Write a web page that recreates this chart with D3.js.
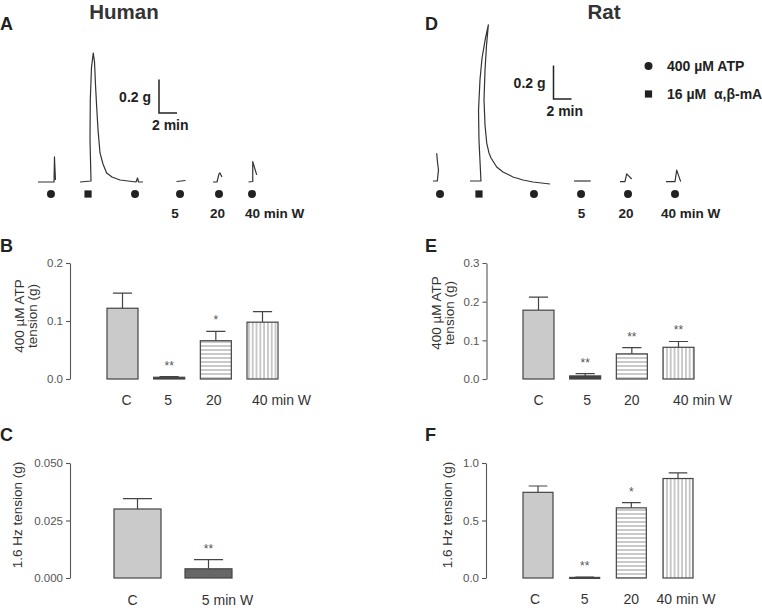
<!DOCTYPE html>
<html>
<head>
<meta charset="utf-8">
<script src="https://cdn.jsdelivr.net/npm/d3@7"></script>
<style>
  body { margin: 0; background: #fff; }
  svg { display: block; font-family: "Liberation Sans", Arial, sans-serif; }
</style>
</head>
<body>
<script>
// ---- traces (time in min, tension in g) ----
const humanTraces = [
  [[0, 0], [1.78, 0], [1.83, 0.149], [1.89, 0.071], [1.94, 0.012]],
  [[4.67, 0], [5.89, 0.006], [5.78, 0.25], [5.81, 0.488], [5.94, 0.679], [6.14, 0.768],
   [6.28, 0.714], [6.39, 0.577], [6.52, 0.446], [6.67, 0.31], [6.89, 0.173], [7.22, 0.107],
   [7.63, 0.054], [8.22, 0.03], [9.11, 0.012], [10.89, 0], [11.06, 0.024], [11.17, 0], [11.67, 0]],
  [[15.39, 0.003], [16.39, 0.009]],
  [[19.44, 0], [19.89, 0], [20.11, 0.048], [20.22, 0.054], [20.44, 0.03]],
  [[23.39, 0], [23.86, 0.003], [23.86, 0.121], [24.3, 0.042]]
];
const ratTraces = [
  [[0.11, 0.006], [0.59, 0.006], [0.72, 0.071], [0.61, 0.119], [0.52, 0.171]],
  [[4.22, 0.006], [5.44, 0.006], [5.22, 0.25], [5.17, 0.429], [5.33, 0.607], [5.56, 0.738],
   [5.94, 0.857], [6.26, 0.935], [6.06, 0.815], [5.89, 0.667], [5.78, 0.488], [5.89, 0.339],
   [6.08, 0.232], [6.33, 0.173], [6.56, 0.143], [7.19, 0.089], [7.89, 0.06], [9, 0.03],
   [10.11, 0.012], [11.22, 0], [13.11, -0.012]],
  [[15.78, 0.006], [17.63, 0.006]],
  [[20.89, 0.002], [21.44, 0.002], [21.63, 0.048], [22.19, 0.018]],
  [[26, 0.002], [27, 0.002], [27.19, 0.071], [27.63, 0.002]]
];
// drug application markers (time in min)
const humanMarkers = [[1.44, "atp"], [5.56, "mA"], [10.78, "atp"], [15.78, "atp"], [20.11, "atp"], [23.78, "atp"]];
const ratMarkers = [[0.89, "atp"], [5.22, "mA"], [11.33, "atp"], [16.56, "atp"], [21.78, "atp"], [27, "atp"]];
const humanTimeLabels = [[15.22, "5", "middle"], [19.94, "20", "middle"], [23, "40 min W", "start"]];
const ratTimeLabels = [[16.61, "5", "middle"], [21.56, "20", "middle"], [25.44, "40 min W", "start"]];
const legendItems = [["atp", "400 \u00b5M ATP"], ["mA", "16 \u00b5M  \u03b1,\u03b2-mA"]];

// ---- bar charts ----
const washCats = ["C", "5", "20", "40 min W"];
const humanAtpMean = [0.122, 0.003, 0.066, 0.098];
const humanAtpSem = [0.026, 0.001, 0.016, 0.018];
const humanAtpSig = ["", "**", "*", ""];
const ratAtpMean = [0.178, 0.008, 0.065, 0.082];
const ratAtpSem = [0.034, 0.006, 0.016, 0.015];
const ratAtpSig = ["", "**", "**", "**"];
const humanEfsCats = ["C", "5 min W"];
const humanEfsMean = [0.030, 0.004];
const humanEfsSem = [0.0045, 0.004];
const humanEfsSig = ["", "**"];
const ratEfsMean = [0.745, 0.005, 0.61, 0.865];
const ratEfsSem = [0.055, 0.002, 0.045, 0.05];
const ratEfsSig = ["", "**", "*", ""];

const W = 762, H = 610;
const svg = d3.select("body").append("svg").attr("width", W).attr("height", H);
const defs = svg.append("defs");

const hl = defs.append("pattern").attr("id", "hlines").attr("patternUnits", "userSpaceOnUse")
  .attr("width", 4).attr("height", 4);
hl.append("rect").attr("width", 4).attr("height", 4).attr("fill", "#fff");
hl.append("line").attr("x1", 0).attr("x2", 4).attr("y1", 2).attr("y2", 2)
  .attr("stroke", "#777").attr("stroke-width", 0.8);
const vl = defs.append("pattern").attr("id", "vlines").attr("patternUnits", "userSpaceOnUse")
  .attr("width", 3.8).attr("height", 4);
vl.append("rect").attr("width", 3.8).attr("height", 4).attr("fill", "#fff");
vl.append("line").attr("x1", 1.9).attr("x2", 1.9).attr("y1", 0).attr("y2", 4)
  .attr("stroke", "#777").attr("stroke-width", 0.8);

function panelLetter(txt, x, y) {
  svg.append("text").attr("x", x).attr("y", y).text(txt)
    .attr("font-size", 18).attr("font-weight", "bold").attr("fill", "#222");
}

function marker(g, type, x, y) {
  if (type === "atp") g.append("circle").attr("cx", x).attr("cy", y).attr("r", 4).attr("fill", "#222");
  else g.append("rect").attr("x", x - 3.6).attr("y", y - 3.6).attr("width", 7.2).attr("height", 7.2).attr("fill", "#222");
}

function tracePanel(traces, markers, timeLabels, o) {
  const g = svg.append("g");
  const x = d3.scaleLinear().domain([0, 10]).range([o.x0, o.x0 + 90]);
  const y = d3.scaleLinear().domain([0, 0.2]).range([o.base, o.base - 33.6]);
  const line = d3.line().x(d => x(d[0])).y(d => y(d[1]));
  g.selectAll("path.trace").data(traces).join("path").attr("class", "trace")
    .attr("d", line).attr("fill", "none").attr("stroke", "#333")
    .attr("stroke-width", 1.2).attr("stroke-linejoin", "round");
  markers.forEach(m => marker(g, m[1], x(m[0]), o.markerY));
  g.selectAll("text.tl").data(timeLabels).join("text").attr("class", "tl")
    .attr("x", d => x(d[0])).attr("y", o.labelY).attr("text-anchor", d => d[2])
    .attr("font-size", 13.5).attr("font-weight", "bold").attr("fill", "#222").text(d => d[1]);
  // scale bar
  const sx = o.barX, sy = o.barY;
  const dy = y(0) - y(0.2), dx = x(2) - x(0);
  g.append("path").attr("d", `M${sx},${sy - dy}V${sy}H${sx + dx}`)
    .attr("fill", "none").attr("stroke", "#222").attr("stroke-width", 1.5);
  g.append("text").attr("x", sx - 8).attr("y", sy - dy / 2 + 6).attr("text-anchor", "end")
    .attr("font-size", 14).attr("font-weight", "bold").attr("fill", "#222").text("0.2 g");
  g.append("text").attr("x", sx - 7).attr("y", sy + 17)
    .attr("font-size", 14).attr("font-weight", "bold").attr("fill", "#222").text("2 min");
  g.append("text").attr("x", o.titleX).attr("y", 18.5).attr("text-anchor", "middle")
    .attr("font-size", 20.5).attr("font-weight", "bold").attr("fill", "#333").text(o.title);
}

tracePanel(humanTraces, humanMarkers, humanTimeLabels,
  { x0: 38, base: 182, markerY: 194, labelY: 218, barX: 159, barY: 113, titleX: 124, title: "Human" });
tracePanel(ratTraces, ratMarkers, ratTimeLabels,
  { x0: 432, base: 182, markerY: 194, labelY: 218, barX: 553.5, barY: 99, titleX: 604, title: "Rat" });

// legend
const lg = svg.append("g");
legendItems.forEach((d, i) => {
  marker(lg, d[0], 648.5, 66 + i * 28);
  lg.append("text").attr("x", 667).attr("y", 71 + i * 28).attr("font-size", 14)
    .attr("font-weight", "bold").attr("fill", "#222").style("white-space", "pre").text(d[1]);
});

panelLetter("A", 0, 30);
panelLetter("D", 425, 30);
panelLetter("B", 0, 252);
panelLetter("E", 425, 252);
panelLetter("C", 0, 441);
panelLetter("F", 425, 441);

const fills = { gray: "#cacaca", dark: "#444", mid: "#666", h: "url(#hlines)", v: "url(#vlines)" };

function barPanel(cats, mean, sem, sig, o) {
  const g = svg.append("g");
  const y = d3.scaleLinear().domain([0, o.max]).range([o.yBottom, o.yTop]);
  const x = d3.scalePoint().domain(cats).range(o.xRange);
  const axis = d3.axisLeft(y).tickValues(o.ticks).tickFormat(d3.format(o.fmt))
    .tickSize(4).tickSizeOuter(0).tickPadding(3);
  const ag = g.append("g").attr("transform", `translate(${o.axisX},0)`).call(axis);
  ag.selectAll("path,line").attr("stroke", "#555").attr("stroke-width", 1.1);
  ag.selectAll("text").attr("font-size", 11.5).attr("fill", "#555")
    .attr("font-family", "'Liberation Sans', Arial, sans-serif");

  const bw = o.bw;
  const data = cats.map((c, i) => ({ c, v: mean[i], e: sem[i], s: sig[i], f: o.fills[i], dx: o.labelDx[i] }));
  // error bars (upper only)
  data.forEach(d => {
    const cx = x(d.c);
    g.append("path").attr("d", `M${cx},${y(d.v)}V${y(d.v + d.e)}M${cx - bw * 0.31},${y(d.v + d.e)}H${cx + bw * 0.31}`)
      .attr("stroke", "#444").attr("stroke-width", 1.2).attr("fill", "none");
  });
  g.selectAll("rect.bar").data(data).join("rect").attr("class", "bar")
    .attr("x", d => x(d.c) - bw / 2).attr("y", d => y(d.v))
    .attr("width", bw).attr("height", d => Math.max(1, y(0) - y(d.v)))
    .attr("fill", d => fills[d.f]).attr("stroke", "#444").attr("stroke-width", 1.2);
  g.selectAll("text.sig").data(data).join("text").attr("class", "sig")
    .attr("x", d => x(d.c)).attr("y", d => y(d.v + d.e) - 7).attr("text-anchor", "middle")
    .attr("font-size", 12).attr("fill", "#555").text(d => d.s);
  g.selectAll("text.cat").data(data).join("text").attr("class", "cat")
    .attr("x", d => x(d.c) + d.dx).attr("y", o.labelY).attr("text-anchor", "middle")
    .attr("font-size", 14).attr("fill", "#333").text(d => d.c);
  const yl = g.append("text").attr("transform", `translate(${o.ylabX},${o.ylabY}) rotate(-90)`)
    .attr("text-anchor", "middle").attr("font-size", 13.5).attr("fill", "#333");
  o.ylabel.forEach((t, i) => yl.append("tspan").attr("x", 0).attr("dy", i ? 13 : 0).text(t));
}

barPanel(washCats, humanAtpMean, humanAtpSem, humanAtpSig, {
  max: 0.2, ticks: [0, 0.1, 0.2], fmt: ".1f", yBottom: 379, yTop: 263, axisX: 70,
  xRange: [122.5, 262.5], bw: 31, fills: ["gray", "dark", "h", "v"], labelDx: [4, -1, -2, 19],
  labelY: 405, ylabX: 24, ylabY: 316, ylabel: ["400 \u00b5M ATP", "tension (g)"]
});
barPanel(washCats, ratAtpMean, ratAtpSem, ratAtpSig, {
  max: 0.3, ticks: [0, 0.1, 0.2, 0.3], fmt: ".1f", yBottom: 379, yTop: 263, axisX: 486.5,
  xRange: [538.5, 678.5], bw: 31, fills: ["gray", "dark", "h", "v"], labelDx: [0, 2, 0, 24],
  labelY: 405, ylabX: 441, ylabY: 313, ylabel: ["400 \u00b5M ATP", "tension (g)"]
});
barPanel(humanEfsCats, humanEfsMean, humanEfsSem, humanEfsSig, {
  max: 0.05, ticks: [0, 0.025, 0.05], fmt: ".3f", yBottom: 578, yTop: 463, axisX: 70,
  xRange: [137.5, 208.5], bw: 47, fills: ["gray", "mid"], labelDx: [-5, 19],
  labelY: 605, ylabX: 22, ylabY: 515, ylabel: ["1.6 Hz tension (g)"]
});
barPanel(washCats, ratEfsMean, ratEfsSem, ratEfsSig, {
  max: 1.0, ticks: [0, 0.5, 1.0], fmt: ".1f", yBottom: 578, yTop: 463, axisX: 486,
  xRange: [538, 678], bw: 30, fills: ["gray", "dark", "h", "v"], labelDx: [-3, 0, 0, 8],
  labelY: 604, ylabX: 452, ylabY: 515, ylabel: ["1.6 Hz tension (g)"]
});
</script>
</body>
</html>
